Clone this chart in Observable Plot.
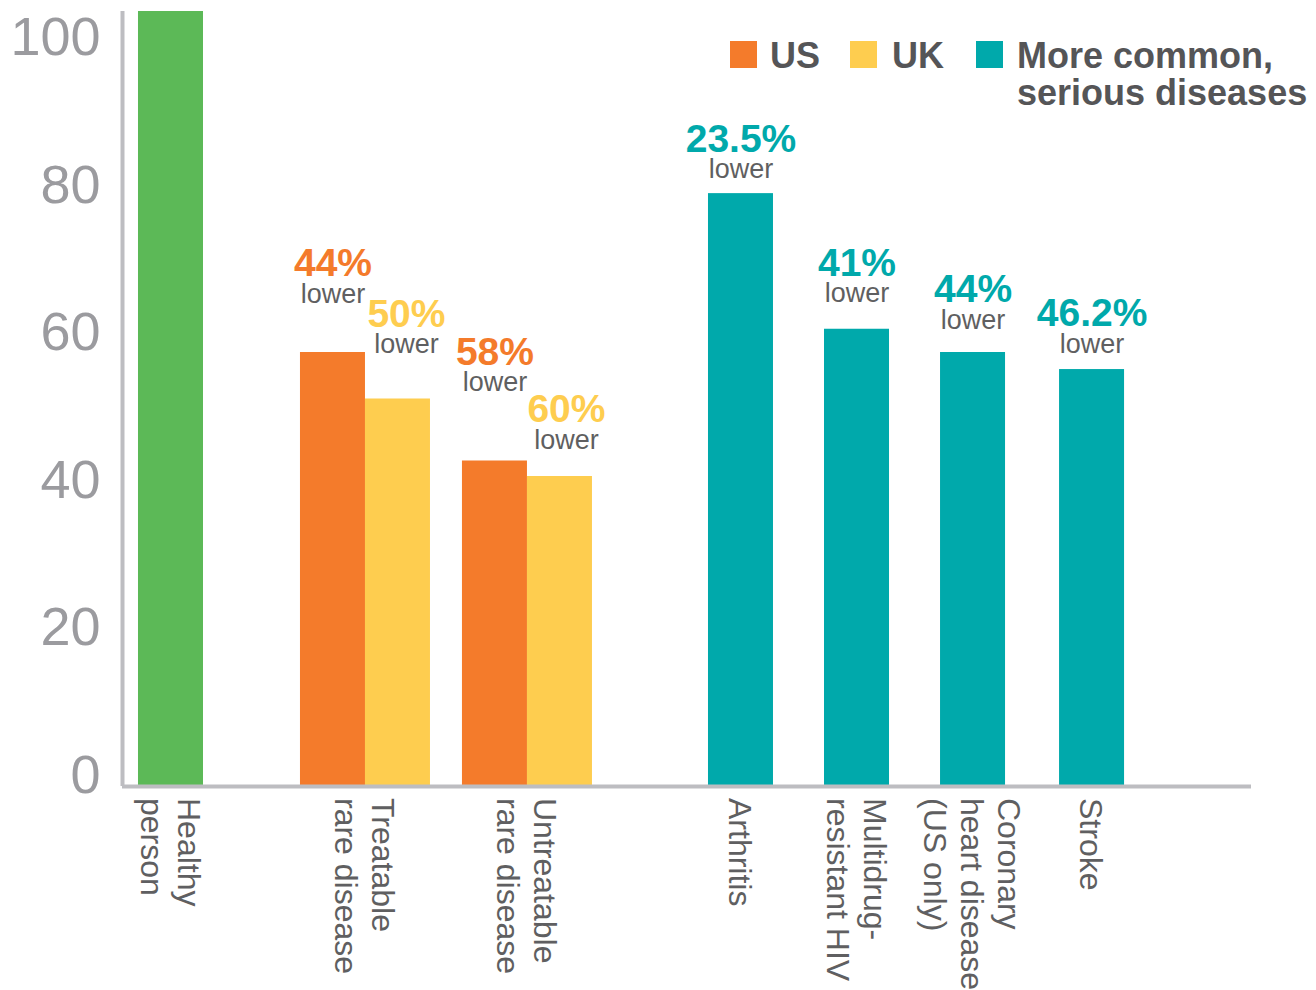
<!DOCTYPE html>
<html><head><meta charset="utf-8">
<script src="https://cdn.jsdelivr.net/npm/d3@7"></script>
<script src="https://cdn.jsdelivr.net/npm/@observablehq/plot@0.6"></script>
<style>
html,body{margin:0;padding:0;background:#fff;}
#wrap{position:relative;width:1316px;height:990px;font-family:"Liberation Sans",Arial,Helvetica,sans-serif;}
.sw{position:absolute;width:27px;height:27px;}
.lt{position:absolute;font-weight:bold;font-size:36px;line-height:37px;color:#555557;white-space:nowrap;}
svg{display:block;}
</style></head><body><div id="wrap"></div>
<script>
// ---------- data ----------
const bars = ["Healthy person","Treatable rare disease – US","Treatable rare disease – UK","Untreatable rare disease – US","Untreatable rare disease – UK","Arthritis","Multidrug-resistant HIV","Coronary heart disease (US only)","Stroke"];
const series = ["Healthy","US","UK","US","UK","Common","Common","Common","Common"];
const values = [100, 56, 50, 42, 40, 76.5, 59, 56, 53.8];
const pctLower = ["", "44%", "50%", "58%", "60%", "23.5%", "41%", "44%", "46.2%"];
const groupLabels = ["Healthy\nperson","Treatable\nrare disease","Untreatable\nrare disease","Arthritis","Multidrug-\nresistant HIV","Coronary\nheart disease\n(US only)","Stroke"];
const barGroup = [0, 1, 1, 2, 2, 3, 4, 5, 6];
const yTicks = [0, 20, 40, 60, 80, 100];
const seriesKeys = ["Healthy","US","UK","Common"];
const seriesColors = ["#5cb957","#f47b2b","#fecd4f","#00a9ab"];
const legendLabels = [["US","US"],["UK","UK"],["Common","More common,<br>serious diseases"]];

// ---------- layout (not data) ----------
const gapBefore = [0, 1.492, 0, 0.492, 0, 1.785, 0.785, 0.785, 0.831]; // in bar widths
const annotLift = [0, 7.56, 7.05, 10.14, 4.72, 3.14, 4.59, 4.21, 3.30];  // y units above bar
const annotShift = [0, 0, 0.13, 0, 0.1, 0, 0, 0, 0];                     // bar widths
const slotStart = [];
gapBefore.forEach((g, i) => slotStart.push((i === 0 ? 0 : slotStart[i - 1] + 1) + g));
const xMin = -0.246, xMax = 17.123;
const groupCenter = groupLabels.map((_, gi) => d3.mean(bars.map((_, i) => i).filter(i => barGroup[i] === gi), i => slotStart[i] + 0.5));
const idx = bars.map((_, i) => i);
const annIdx = idx.filter(i => pctLower[i]);
const FONT = "Liberation Sans, Arial, Helvetica, sans-serif";

const chart = Plot.plot({
  width: 1316, height: 990,
  marginLeft: 122, marginRight: 65, marginTop: 11, marginBottom: 204,
  style: {fontFamily: FONT, background: "transparent"},
  x: {type: "linear", domain: [xMin, xMax], axis: null},
  y: {domain: [0, 100], axis: null},
  color: {domain: seriesKeys, range: seriesColors},
  marks: [
    Plot.rectY(idx, {x1: i => slotStart[i], x2: i => slotStart[i] + 1, y1: 0, y2: i => values[i], fill: i => series[i]}),
    Plot.ruleX([xMin], {stroke: "#bdbdc1", strokeWidth: 4}),
    Plot.ruleY([0], {stroke: "#bdbdc1", strokeWidth: 4}),
    Plot.text(yTicks, {x: xMin, y: d => 1.42 + 0.9514 * d, text: d => String(d), textAnchor: "end", dx: -22, fontSize: 54, fill: "#9b9b9f", fontFamily: FONT}),
    Plot.text(groupLabels, {x: (d, i) => groupCenter[i], y: 0, text: d => d, rotate: 90, textAnchor: "start", lineAnchor: "middle", dy: 11.5, fontSize: 32, lineHeight: 1.15, fill: "#5f5f61", fontFamily: FONT}),
    Plot.text(annIdx, {x: i => slotStart[i] + 0.5 + annotShift[i], y: i => values[i] + annotLift[i], text: () => "lower", fontSize: 27, fill: "#5f5f61", fontFamily: FONT}),
    Plot.text(annIdx, {x: i => slotStart[i] + 0.5 + annotShift[i], y: i => values[i] + annotLift[i], text: i => pctLower[i], dy: -30, fontSize: 39, fontWeight: "bold", fill: i => series[i], fontFamily: FONT})
  ]
});
const wrap = document.getElementById("wrap");
wrap.appendChild(chart);

// legend (HTML, over the plot)
const legendPos = [[730, 770], [850, 892], [976, 1017]];
legendLabels.forEach(([key, label], i) => {
  const sw = document.createElement("div");
  sw.className = "sw";
  sw.style.left = legendPos[i][0] + "px"; sw.style.top = "41px";
  sw.style.background = seriesColors[seriesKeys.indexOf(key)];
  wrap.appendChild(sw);
  const t = document.createElement("div");
  t.className = "lt";
  t.style.left = legendPos[i][1] + "px"; t.style.top = "37px";
  t.innerHTML = label;
  wrap.appendChild(t);
});
</script></body></html>
